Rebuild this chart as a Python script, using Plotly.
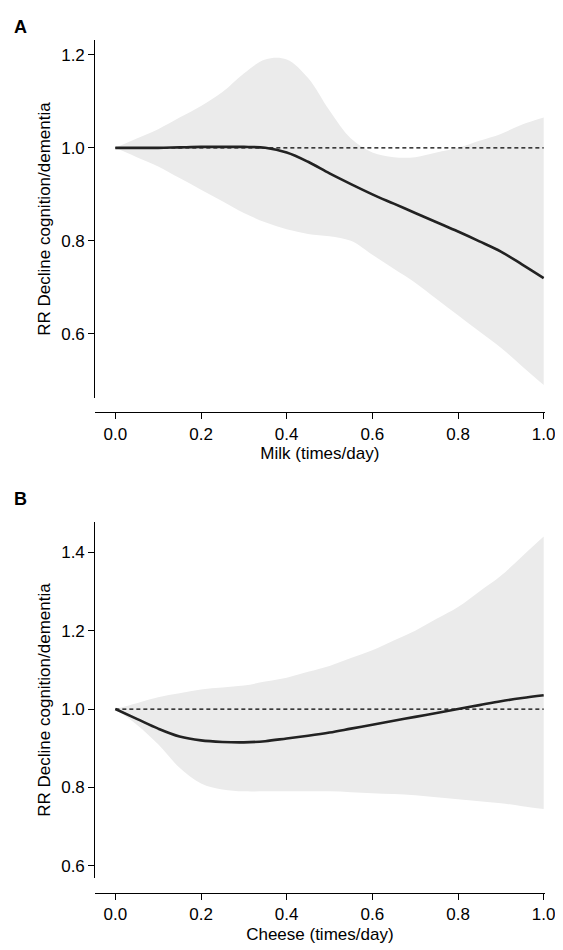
import plotly.graph_objects as go

# Shared x grid (times/day)
x = [0.0, 0.05, 0.1, 0.15, 0.2, 0.25, 0.3, 0.35, 0.4, 0.45, 0.5,
     0.55, 0.6, 0.65, 0.7, 0.75, 0.8, 0.85, 0.9, 0.95, 1.0]

# Panel A: milk
milk_rr = [1.0, 1.0, 1.0, 1.001, 1.002, 1.002, 1.002, 1.0, 0.99, 0.97, 0.945,
           0.922, 0.90, 0.88, 0.86, 0.84, 0.82, 0.80, 0.78, 0.75, 0.72]
milk_rr[17:20] = [0.799, 0.777, 0.749]
milk_upper = [1.0, 1.02, 1.04, 1.065, 1.09, 1.12, 1.16, 1.19, 1.19, 1.15, 1.08,
              1.02, 0.99, 0.98, 0.98, 0.99, 1.0, 1.015, 1.03, 1.05, 1.065]
milk_lower = [1.0, 0.98, 0.96, 0.935, 0.91, 0.885, 0.86, 0.84, 0.825, 0.815, 0.81,
              0.80, 0.77, 0.74, 0.71, 0.675, 0.64, 0.605, 0.57, 0.53, 0.49]

# Panel B: cheese
cheese_rr = [1.0, 0.975, 0.95, 0.93, 0.92, 0.916, 0.915, 0.918, 0.925, 0.932, 0.94,
             0.95, 0.96, 0.97, 0.98, 0.99, 1.0, 1.01, 1.02, 1.028, 1.035]
cheese_upper = [1.0, 1.015, 1.03, 1.04, 1.05, 1.055, 1.06, 1.07, 1.08, 1.095, 1.11,
                1.13, 1.15, 1.175, 1.2, 1.23, 1.26, 1.3, 1.34, 1.39, 1.44]
cheese_lower = [1.0, 0.96, 0.91, 0.85, 0.81, 0.795, 0.79, 0.79, 0.79, 0.79, 0.79,
                0.788, 0.785, 0.783, 0.78, 0.775, 0.77, 0.765, 0.76, 0.752, 0.745]

fig = go.Figure()

def add_panel(rr, upper, lower, xa, ya):
    fig.add_trace(go.Scatter(x=x, y=upper, mode="lines", line=dict(width=0, shape="spline"),
                             xaxis=xa, yaxis=ya, hoverinfo="skip"))
    fig.add_trace(go.Scatter(x=x, y=lower, mode="lines", line=dict(width=0, shape="spline"),
                             fill="tonexty", fillcolor="#ebebeb", xaxis=xa, yaxis=ya))
    fig.add_trace(go.Scatter(x=[0, 1], y=[1, 1], mode="lines",
                             line=dict(color="black", width=1.2, dash="4px,3px"), xaxis=xa, yaxis=ya))
    fig.add_trace(go.Scatter(x=x, y=rr, mode="lines",
                             line=dict(color="#222", width=2.6, shape="spline"), xaxis=xa, yaxis=ya))

add_panel(milk_rr, milk_upper, milk_lower, "x", "y")
add_panel(cheese_rr, cheese_upper, cheese_lower, "x2", "y2")

ax = dict(showline=True, linecolor="black", linewidth=1, ticks="outside", ticklen=6,
          tickcolor="black", showgrid=False, zeroline=False, tickfont=dict(size=17),
          title_font=dict(size=17))
xticks = dict(tickvals=[0, 0.2, 0.4, 0.6, 0.8, 1.0], tickformat=".1f", range=[-0.047, 1.002])
dy = 0.0084
xdom = [0.158, 0.972]

fig.update_layout(
    width=563, height=950, margin=dict(l=0, r=0, t=0, b=0),
    plot_bgcolor="white", paper_bgcolor="white", showlegend=False,
    font=dict(family="Liberation Sans, Arial", color="black"),
    xaxis=dict(**ax, **xticks, domain=xdom, anchor="free", position=0.566 + dy,
               title=dict(text="Milk (times/day)", standoff=4)),
    yaxis=dict(**ax, domain=[0.581 + dy, 0.958 + dy], range=[0.462, 1.232], anchor="x",
               tickvals=[0.6, 0.8, 1.0, 1.2], tickformat=".1f",
               title=dict(text="RR Decline cognition/dementia", standoff=6)),
    xaxis2=dict(**ax, **xticks, domain=xdom, anchor="free", position=0.06 + dy,
                title=dict(text="Cheese (times/day)", standoff=4)),
    yaxis2=dict(**ax, domain=[0.0758 + dy, 0.4505 + dy], range=[0.569, 1.477], anchor="x2",
                tickvals=[0.6, 0.8, 1.0, 1.2, 1.4], tickformat=".1f",
                title=dict(text="RR Decline cognition/dementia", standoff=6)),
    annotations=[
        dict(text="<b>A</b>", x=0.008, y=0.993, xref="paper", yref="paper",
             showarrow=False, font=dict(size=18), xanchor="left"),
        dict(text="<b>B</b>", x=0.008, y=0.483, xref="paper", yref="paper",
             showarrow=False, font=dict(size=18), xanchor="left"),
    ],
)

fig.write_html("out.html")
